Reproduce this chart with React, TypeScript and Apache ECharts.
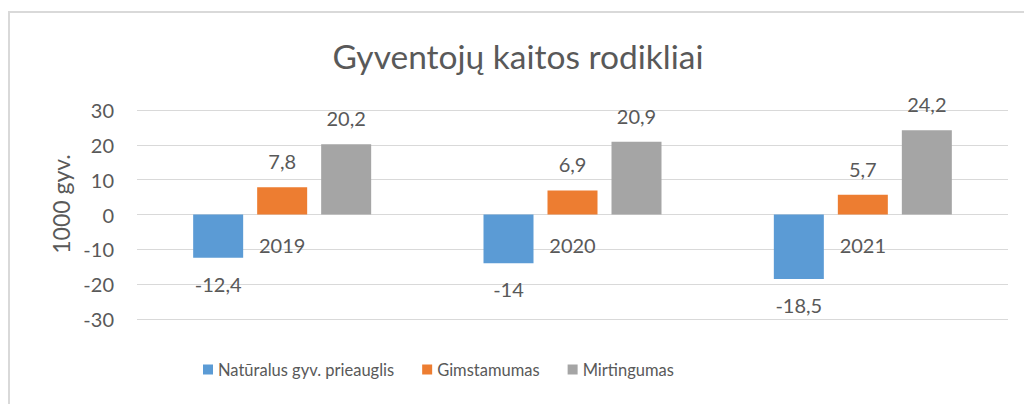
import React, { useEffect, useRef } from "react";
import * as echarts from "echarts";

const categories = ["2019", "2020", "2021"];
const naturalIncrease = [-12.4, -14, -18.5];
const births = [7.8, 6.9, 5.7];
const deaths = [20.2, 20.9, 24.2];
const seriesNames = ["Natūralus gyv. prieauglis", "Gimstamumas", "Mirtingumas"];
const seriesColors = ["#5B9BD5", "#ED7D31", "#A5A5A5"];
const titleText = "Gyventojų kaitos rodikliai";
const yAxisTitle = "1000 gyv.";
const yMin = -30;
const yMax = 30;
const yStep = 10;

const FONT = "Lato";
const TEXT = "#595959";
const GRID = "#D9D9D9";

const fmt = (v: number) => String(v).replace(".", ",");

export default function App() {
  const ref = useRef<HTMLDivElement>(null);
  useEffect(() => {
    if (!ref.current) return;
    const chart = echarts.init(ref.current, undefined, { renderer: "svg" });
    const makeSeries = (name: string, values: number[], color: string) => ({
      name,
      type: "bar",
      barWidth: 50,
      barGap: "28%",
      itemStyle: { color },
      data: values.map((v) => ({
        value: v,
        label: { position: v < 0 ? "bottom" : "top" },
      })),
      label: {
        show: true,
        distance: 16,
        fontSize: 20,
        fontFamily: FONT,
        color: TEXT,
        formatter: (p: any) => fmt(p.value),
      },
    });
    chart.setOption({
      animation: false,
      backgroundColor: "#ffffff",
      title: {
        text: titleText,
        left: 513,
        textAlign: "center",
        top: 34,
        textStyle: { fontSize: 33.5, fontWeight: "normal", color: TEXT, fontFamily: FONT },
      },
      legend: {
        left: 203,
        top: 361,
        padding: 0,
        icon: "rect",
        itemWidth: 10,
        itemHeight: 10,
        itemGap: 28,
        textStyle: { fontSize: 16.5, color: TEXT, fontFamily: FONT },
        data: seriesNames,
      },
      grid: { left: 137, right: 16, top: 110, bottom: 85, outerBoundsMode: "none" },
      xAxis: {
        type: "category",
        data: categories,
        axisLine: { show: false },
        axisTick: { show: false },
        axisLabel: { show: false },
      },
      yAxis: {
        type: "value",
        min: yMin,
        max: yMax,
        interval: yStep,
        axisLine: { show: false },
        axisTick: { show: false },
        axisLabel: { margin: 23, fontSize: 20, color: TEXT, fontFamily: FONT },
        splitLine: { lineStyle: { color: GRID, width: 1 } },
      },
      graphic: [
        {
          type: "rect",
          shape: { x: 9, y: 12, width: 1100, height: 500 },
          style: { fill: "none", stroke: GRID, lineWidth: 2 },
          silent: true,
        },
        {
          type: "text",
          x: 61,
          y: 204,
          rotation: Math.PI / 2,
          style: {
            text: yAxisTitle,
            fontSize: 23,
            fontFamily: FONT,
            fill: TEXT,
            align: "center",
            verticalAlign: "middle",
          },
        },
      ],
      series: [
        makeSeries(seriesNames[0], naturalIncrease, seriesColors[0]),
        makeSeries(seriesNames[1], births, seriesColors[1]),
        makeSeries(seriesNames[2], deaths, seriesColors[2]),
        {
          name: "categoryLabels",
          type: "scatter",
          symbol: "circle",
          symbolSize: 0,
          silent: true,
          z: 5,
          itemStyle: { opacity: 1, color: "rgba(0,0,0,0)" },
          data: categories.map((c) => [c, 0]),
          label: {
            show: true,
            position: "bottom",
            distance: 20,
            fontSize: 20,
            fontFamily: FONT,
            color: TEXT,
            opacity: 1,
            formatter: (p: any) => p.value[0],
          },
        },
      ],
    });
    return () => chart.dispose();
  }, []);
  return (
    <div
      ref={ref}
      style={{ position: "fixed", left: 0, top: 0, width: 1024, height: 404, background: "#fff" }}
    />
  );
}
